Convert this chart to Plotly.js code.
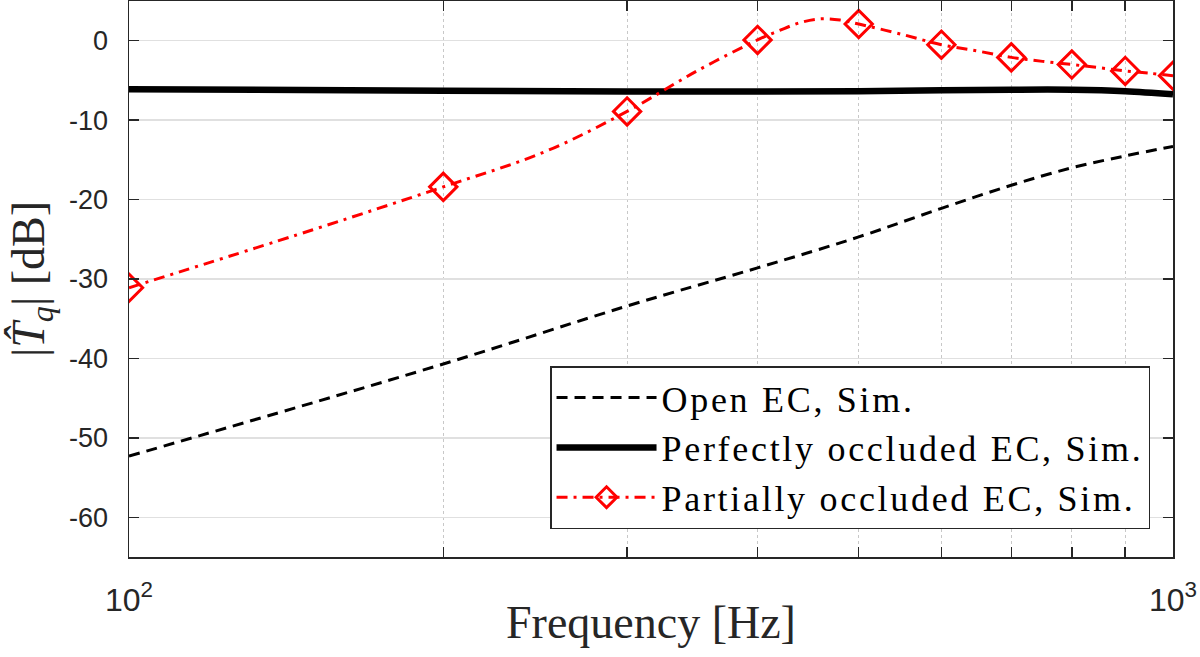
<!DOCTYPE html>
<html>
<head>
<meta charset="utf-8">
<script src="https://cdn.plot.ly/plotly-3.0.1.min.js"></script>
<style>
  html, body { margin: 0; padding: 0; background: #fff; }
  #chart { width: 1200px; height: 657px; }
  /* Computer Modern is wider than Times; spread the legend letters a little */
  text.legendtext { letter-spacing: 2.7px; }
</style>
</head>
<body>
<div id="chart"></div>
<script>
// Frequencies in Hz, levels in dB
const freqCoarse = [100, 200, 300, 400, 500, 600, 700, 800, 900, 1000];
const openEC = [-52.3, -40.7, -33.4, -28.6, -24.7, -21.1, -18.2, -16.0, -14.5, -13.3];
const perfectEC = [-6.1, -6.3, -6.4, -6.4, -6.35, -6.25, -6.17, -6.17, -6.35, -6.75];

const freqPartial = [100, 150, 200, 250, 300, 350, 400, 420, 440, 460, 480, 500,
  550, 600, 650, 700, 750, 800, 850, 900, 950, 1000];
const partialEC = [-31.1, -23.8, -18.4, -14.0, -8.9, -3.8, 0.1, 1.3, 2.3, 2.75, 2.6, 2.1,
  0.8, -0.5, -1.3, -2.1, -2.6, -3.0, -3.4, -3.8, -4.1, -4.4];

const partialMarkF = [100, 200, 300, 400, 500, 600, 700, 800, 900, 1000];
const partialMarkV = [-31.1, -18.4, -8.9, 0.1, 2.1, -0.5, -2.1, -3.0, -3.8, -4.4];

const yTicks = [-60, -50, -40, -30, -20, -10, 0];
const xMajorTicks = [100, 1000];
const xMajorText = ['10<sup>2</sup>', '10<sup>3</sup>'];
const xMinorTicks = [200, 300, 400, 500, 600, 700, 800, 900];

const xTitle = 'Frequency [Hz]';
const yTitle = '|<i>T\u0302</i><sub><i>q</i></sub>| [dB]';
const legendNames = ['Open EC, Sim.', 'Perfectly occluded EC, Sim.', 'Partially occluded EC, Sim.'];

(function () {
  'use strict';

  const axisColor = '#262626';
  const red = '#ff0000';
  const redDash = '11px,6px,3px,6px';
  const serif = 'Liberation Serif, Times New Roman, serif';
  const sans = 'Liberation Sans, Arial, Helvetica, sans-serif';
  const diamond = { symbol: 'diamond-open', size: 21, color: red, line: { color: red, width: 3 } };

  const traces = [
    {
      x: freqCoarse,
      y: openEC,
      mode: 'lines',
      name: legendNames[0],
      line: { color: '#000', width: 3, dash: '11px,7px', shape: 'spline' },
    },
    {
      x: freqCoarse,
      y: perfectEC,
      mode: 'lines',
      name: legendNames[1],
      line: { color: '#000', width: 6.5, shape: 'spline' },
    },
    {
      x: freqPartial,
      y: partialEC,
      mode: 'lines',
      showlegend: false,
      legendgroup: 'partial',
      line: { color: red, width: 3, dash: redDash, shape: 'spline' },
    },
    {
      x: partialMarkF,
      y: partialMarkV,
      mode: 'markers',
      showlegend: false,
      legendgroup: 'partial',
      marker: diamond,
    },
    // legend entry only: line + marker sample for the partially occluded case
    {
      x: [null],
      y: [null],
      mode: 'lines+markers',
      name: legendNames[2],
      legendgroup: 'partial',
      line: { color: red, width: 3, dash: redDash },
      marker: diamond,
    },
  ];

  const frame = {
    ticks: 'inside',
    ticklen: 10,
    tickwidth: 1.5,
    tickcolor: axisColor,
    showline: true,
    mirror: 'ticks',
    linecolor: axisColor,
    linewidth: 1.5,
    showgrid: true,
    zeroline: false,
  };

  const layout = {
    width: 1200,
    height: 657,
    paper_bgcolor: '#fff',
    plot_bgcolor: '#fff',
    margin: { l: 129, r: 27, t: 1, b: 100 },
    font: { family: sans, color: axisColor, size: 26 },
    showlegend: true,
    xaxis: Object.assign({}, frame, {
      type: 'log',
      range: [2, 3],
      tickvals: xMajorTicks,
      ticktext: xMajorText,
      ticklabelstandoff: 14,
      gridcolor: '#c8c8c8',
      gridwidth: 1,
      griddash: 'dot',
      tickfont: { family: sans, size: 32, color: axisColor },
      minor: {
        tickvals: xMinorTicks,
        ticks: 'inside',
        ticklen: 10,
        tickwidth: 1.5,
        tickcolor: axisColor,
        showgrid: true,
        gridcolor: '#c8c8c8',
        gridwidth: 1,
        griddash: 'dot',
      },
    }),
    yaxis: Object.assign({}, frame, {
      range: [-65, 5],
      tickvals: yTicks,
      ticktext: yTicks.map(String),
      ticklabelstandoff: 14,
      gridcolor: '#e0e0e0',
      gridwidth: 1.5,
      tickfont: { family: sans, size: 27, color: axisColor },
      title: {
        text: yTitle,
        font: { family: serif, size: 46, color: axisColor },
        standoff: 10,
      },
    }),
    // x-axis title as an annotation so it can sit closer to the tick labels
    annotations: [
      {
        text: xTitle,
        xref: 'paper',
        yref: 'paper',
        x: 0.5,
        y: -0.118,
        xanchor: 'center',
        yanchor: 'middle',
        showarrow: false,
        font: { family: serif, size: 46, color: axisColor },
      },
    ],
    legend: {
      x: 0.978,
      y: 0.05,
      xanchor: 'right',
      yanchor: 'bottom',
      bgcolor: '#fff',
      bordercolor: axisColor,
      borderwidth: 1.5,
      itemwidth: 100,
      tracegroupgap: 0,
      font: { family: serif, size: 36, color: '#000' },
    },
  };

  Plotly.newPlot('chart', traces, layout, { displayModeBar: false, staticPlot: true });
})();
</script>
</body>
</html>
